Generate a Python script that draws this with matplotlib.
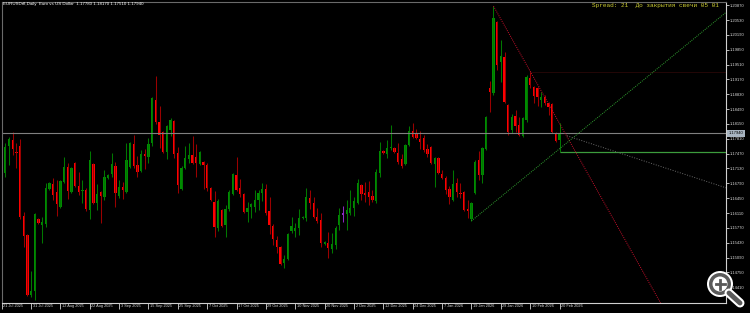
# coding:utf-8
# MT4 style daily candle chart (EURUSD, Jul 2025 - Feb 2026)
import numpy as np
import matplotlib
matplotlib.use("Agg")
from matplotlib import pyplot as plt
from matplotlib import patches, transforms

# date labels, one every 8 bars
DATE_LABELS = ["21 Jul 2025", "31 Jul 2025", "12 Aug 2025", "22 Aug 2025", "3 Sep 2025",
               "15 Sep 2025", "25 Sep 2025", "7 Oct 2025", "17 Oct 2025", "29 Oct 2025",
               "10 Nov 2025", "20 Nov 2025", "2 Dec 2025", "12 Dec 2025", "24 Dec 2025",
               "7 Jan 2026", "19 Jan 2026", "29 Jan 2026", "10 Feb 2026", "20 Feb 2026"]
LABEL_STEP = 8

OPEN = [1.1641, 1.1703, 1.1765, 1.1778, 1.1751, 1.1765, 1.1604, 1.1561, 1.1423, 1.1433,
        1.1598, 1.1584, 1.1586, 1.1666, 1.1678, 1.1659, 1.1625, 1.1682, 1.1717, 1.1659,
        1.1726, 1.1673, 1.1662, 1.1664, 1.1618, 1.1723, 1.1634, 1.1659, 1.1648, 1.1691,
        1.1701, 1.1719, 1.1650, 1.1671, 1.1659, 1.1717, 1.1769, 1.1721, 1.1707, 1.1746,
        1.1739, 1.1772, 1.1870, 1.1820, 1.1797, 1.1751, 1.1801, 1.1822, 1.1749, 1.1666,
        1.1714, 1.1735, 1.1744, 1.1739, 1.1723, 1.1728, 1.1721, 1.1668, 1.1636, 1.1577,
        1.1618, 1.1584, 1.1620, 1.1655, 1.1698, 1.1668, 1.1655, 1.1614, 1.1625, 1.1625,
        1.1641, 1.1657, 1.1666, 1.1616, 1.1581, 1.1549, 1.1533, 1.1497, 1.1506, 1.1570,
        1.1570, 1.1577, 1.1600, 1.1600, 1.1646, 1.1634, 1.1602, 1.1595, 1.1540, 1.1543,
        1.1529, 1.1538, 1.1584, 1.1607, 1.1609, 1.1611, 1.1623, 1.1634, 1.1675, 1.1657,
        1.1659, 1.1650, 1.1639, 1.1703, 1.1753, 1.1746, 1.1760, 1.1760, 1.1749, 1.1735,
        1.1723, 1.1767, 1.1799, 1.1794, 1.1781, 1.1783, 1.1758, 1.1762, 1.1723, 1.1737,
        1.1701, 1.1691, 1.1666, 1.1641, 1.1680, 1.1657, 1.1659, 1.1620, 1.1598, 1.1657,
        1.1733, 1.1698, 1.1758, 1.1898, 1.1886, 1.2049, 1.1957, 1.1968, 1.1859, 1.1801,
        1.1833, 1.1813, 1.1788, 1.1824, 1.1920, 1.1900, 1.1898, 1.1870, 1.1877, 1.1863,
        1.1861, 1.1794, 1.1778]
HIGH = [1.1721, 1.1772, 1.1785, 1.1797, 1.1772, 1.1781, 1.1614, 1.1563, 1.1478, 1.1611,
        1.1600, 1.1602, 1.1680, 1.1682, 1.1691, 1.1687, 1.1687, 1.1739, 1.1726, 1.1717,
        1.1728, 1.1705, 1.1687, 1.1668, 1.1753, 1.1726, 1.1678, 1.1662, 1.1710, 1.1701,
        1.1749, 1.1728, 1.1687, 1.1682, 1.1772, 1.1774, 1.1790, 1.1742, 1.1756, 1.1758,
        1.1783, 1.1877, 1.1925, 1.1856, 1.1799, 1.1813, 1.1829, 1.1824, 1.1762, 1.1719,
        1.1765, 1.1772, 1.1788, 1.1769, 1.1753, 1.1730, 1.1726, 1.1671, 1.1662, 1.1643,
        1.1620, 1.1630, 1.1664, 1.1703, 1.1739, 1.1689, 1.1657, 1.1636, 1.1634, 1.1664,
        1.1664, 1.1680, 1.1678, 1.1648, 1.1586, 1.1559, 1.1536, 1.1515, 1.1565, 1.1602,
        1.1588, 1.1620, 1.1604, 1.1668, 1.1664, 1.1648, 1.1623, 1.1611, 1.1547, 1.1568,
        1.1565, 1.1581, 1.1623, 1.1627, 1.1641, 1.1664, 1.1648, 1.1689, 1.1678, 1.1682,
        1.1684, 1.1664, 1.1712, 1.1774, 1.1756, 1.1778, 1.1813, 1.1762, 1.1772, 1.1746,
        1.1769, 1.1810, 1.1817, 1.1804, 1.1799, 1.1790, 1.1769, 1.1765, 1.1739, 1.1739,
        1.1710, 1.1696, 1.1673, 1.1710, 1.1691, 1.1680, 1.1662, 1.1641, 1.1636, 1.1733,
        1.1753, 1.1762, 1.1833, 1.1914, 1.2085, 1.2051, 1.2007, 1.1980, 1.1861, 1.1838,
        1.1847, 1.1831, 1.1831, 1.1927, 1.1936, 1.1902, 1.1900, 1.1888, 1.1881, 1.1865,
        1.1863, 1.1796, 1.1817]
LOW = [1.1639, 1.1694, 1.1721, 1.1744, 1.1714, 1.1598, 1.1533, 1.1421, 1.1419, 1.1412,
       1.1586, 1.1543, 1.1579, 1.1664, 1.1641, 1.1604, 1.1623, 1.1680, 1.1643, 1.1657,
       1.1671, 1.1652, 1.1634, 1.1616, 1.1598, 1.1632, 1.1618, 1.1588, 1.1641, 1.1689,
       1.1694, 1.1625, 1.1646, 1.1643, 1.1657, 1.1714, 1.1714, 1.1694, 1.1705, 1.1712,
       1.1726, 1.1765, 1.1815, 1.1760, 1.1749, 1.1735, 1.1788, 1.1737, 1.1657, 1.1664,
       1.1712, 1.1726, 1.1724, 1.1694, 1.1721, 1.1666, 1.1662, 1.1639, 1.1556, 1.1570,
       1.1579, 1.1556, 1.1616, 1.1652, 1.1662, 1.1648, 1.1611, 1.1591, 1.1600, 1.1614,
       1.1618, 1.1639, 1.1607, 1.1563, 1.1538, 1.1520, 1.1492, 1.1485, 1.1504, 1.1565,
       1.1556, 1.1561, 1.1598, 1.1593, 1.1620, 1.1600, 1.1588, 1.1533, 1.1538, 1.1508,
       1.1520, 1.1529, 1.1572, 1.1591, 1.1572, 1.1607, 1.1604, 1.1632, 1.1641, 1.1636,
       1.1630, 1.1636, 1.1634, 1.1694, 1.1747, 1.1737, 1.1756, 1.1749, 1.1723, 1.1714,
       1.1721, 1.1765, 1.1783, 1.1781, 1.1758, 1.1751, 1.1739, 1.1723, 1.1671, 1.1701,
       1.1689, 1.1655, 1.1632, 1.1639, 1.1648, 1.1646, 1.1616, 1.1600, 1.1593, 1.1655,
       1.1687, 1.1680, 1.1756, 1.1843, 1.1881, 1.1939, 1.1911, 1.1863, 1.1790, 1.1794,
       1.1797, 1.1788, 1.1785, 1.1820, 1.1898, 1.1863, 1.1856, 1.1854, 1.1859, 1.1836,
       1.1794, 1.1774, 1.1751]
CLOSE = [1.1705, 1.1762, 1.1781, 1.1758, 1.1749, 1.1602, 1.1559, 1.1423, 1.1433, 1.1609,
         1.1588, 1.1591, 1.1668, 1.1680, 1.1652, 1.1632, 1.1684, 1.1717, 1.1662, 1.1714,
         1.1673, 1.1659, 1.1664, 1.1620, 1.1733, 1.1634, 1.1655, 1.1650, 1.1694, 1.1698,
         1.1723, 1.1657, 1.1671, 1.1664, 1.1733, 1.1772, 1.1719, 1.1705, 1.1746, 1.1742,
         1.1769, 1.1875, 1.1820, 1.1790, 1.1751, 1.1810, 1.1824, 1.1746, 1.1675, 1.1714,
         1.1737, 1.1744, 1.1726, 1.1726, 1.1751, 1.1721, 1.1668, 1.1641, 1.1579, 1.1639,
         1.1581, 1.1620, 1.1659, 1.1701, 1.1664, 1.1655, 1.1614, 1.1623, 1.1632, 1.1641,
         1.1657, 1.1666, 1.1611, 1.1584, 1.1552, 1.1533, 1.1494, 1.1506, 1.1563, 1.1581,
         1.1577, 1.1600, 1.1602, 1.1648, 1.1634, 1.1602, 1.1593, 1.1543, 1.1545, 1.1531,
         1.1540, 1.1577, 1.1607, 1.1611, 1.1618, 1.1623, 1.1639, 1.1680, 1.1655, 1.1652,
         1.1648, 1.1641, 1.1705, 1.1753, 1.1749, 1.1760, 1.1762, 1.1751, 1.1728, 1.1719,
         1.1767, 1.1799, 1.1785, 1.1783, 1.1774, 1.1756, 1.1746, 1.1726, 1.1737, 1.1703,
         1.1691, 1.1664, 1.1648, 1.1678, 1.1659, 1.1655, 1.1618, 1.1616, 1.1634, 1.1728,
         1.1698, 1.1760, 1.1831, 1.1888, 1.2058, 1.1950, 1.1971, 1.1865, 1.1797, 1.1831,
         1.1810, 1.1790, 1.1829, 1.1923, 1.1904, 1.1879, 1.1877, 1.1877, 1.1863, 1.1854,
         1.1797, 1.1776, 1.1794]

# the one candle drawn in violet
MARKED_BAR = 93

# price scale labels
PRICE_TICKS = [1.20870, 1.20530, 1.20190, 1.19850, 1.19510, 1.19170, 1.18830, 1.18490,
               1.18150, 1.17810, 1.17470, 1.17130, 1.16790, 1.16450, 1.16110, 1.15770,
               1.15430, 1.15090, 1.14750, 1.14410]

# drawn objects: (bar, price) anchors
RED_LINE = [(134, 1.2085), (182, 1.1368)]
GREEN_LINE = [(128, 1.1593), (198, 1.2075)]
GREY_LINE = [(154, 1.1788), (198, 1.1667)]
GREEN_LEVEL = (152, 1.1751)
RED_LEVEL = (144, 1.1935)

TITLE = "EURUSDrfl,Daily  Euro vs US Dollar  1.17780 1.18170 1.17510 1.17940"
SPREAD_TEXT = "Spread: 21  До закрытия свечи 05 01"


def draw_candles(ax):
    x = np.arange(len(OPEN))
    o = np.array(OPEN)
    h = np.array(HIGH)
    l = np.array(LOW)
    c = np.array(CLOSE)
    up = c >= o
    body_col = np.where(up, "#008c00", "#ff0000").astype(object)
    wick_col = np.where(up, "#007800", "#9a0000").astype(object)
    body_col[MARKED_BAR] = "#8a2ac0"
    wick_col[MARKED_BAR] = "#8a2ac0"
    ax.vlines(x, l, h, colors=list(wick_col), linewidth=0.75)
    bottom = np.minimum(o, c)
    height = np.maximum(np.abs(c - o), 0.0002)
    ax.bar(x, height, bottom=bottom, width=0.62, color=list(body_col), linewidth=0)


def draw_objects(ax):
    ax.axhline(CLOSE[-1], color="#808080", linewidth=0.8)
    ax.hlines(RED_LEVEL[1], RED_LEVEL[0], 200, color="#240707", linewidth=0.7)
    ax.hlines(GREEN_LEVEL[1], GREEN_LEVEL[0], 200, color="#3c9c3c", linewidth=0.9)
    ax.plot([p[0] for p in RED_LINE], [p[1] for p in RED_LINE],
            color="#c8102c", linewidth=0.7, linestyle=(0, (1, 1.2)))
    ax.plot([p[0] for p in GREEN_LINE], [p[1] for p in GREEN_LINE],
            color="#30a030", linewidth=0.7, linestyle=(0, (1, 1.2)))
    ax.plot([p[0] for p in GREY_LINE], [p[1] for p in GREY_LINE],
            color="#6a6a6a", linewidth=0.7, linestyle=(0, (1, 1.6)))


def set_up_axes(ax):
    ax.set_facecolor("black")
    ax.set_xlim(-0.05, 197.35)
    ax.set_ylim(1.1405, 1.2095)
    for side in ["top", "left"]:
        ax.spines[side].set_color("#6a6a6a")
    for side in ["bottom", "right"]:
        ax.spines[side].set_color("#d0d0d0")
    for sp in ax.spines.values():
        sp.set_linewidth(0.8)

    ax.yaxis.tick_right()
    ax.set_yticks(PRICE_TICKS)
    ax.set_yticklabels(["%.5f" % v for v in PRICE_TICKS])
    ax.tick_params(axis="y", colors="#d8d8d8", labelsize=3.0, length=2, width=0.6, pad=0.8)

    ax.set_xticks(np.arange(len(DATE_LABELS)) * LABEL_STEP)
    ax.set_xticklabels(DATE_LABELS, family="Liberation Sans")
    ax.tick_params(axis="x", colors="#d8d8d8", labelsize=2.8, length=4, width=0.6, pad=-3.2)
    shift = transforms.ScaledTranslation(1.5 / 100, 0, ax.figure.dpi_scale_trans)
    for lab in ax.get_xticklabels():
        lab.set_ha("left")
        lab.set_transform(lab.get_transform() + shift)
    for lab in ax.get_yticklabels():
        lab.set_family("Liberation Sans")

    # current price box on the scale
    blend = transforms.blended_transform_factory(ax.transAxes, ax.transData)
    ax.text(1.004, CLOSE[-1], "%.5f" % CLOSE[-1], transform=blend, ha="left", va="center",
            fontsize=3.0, family="Liberation Sans", color="black", clip_on=False,
            bbox=dict(boxstyle="square,pad=0.35", fc="#a8b4c0", ec="none"))


def draw_zoom_icon(fig):
    ov = fig.add_axes([0, 0, 1, 1])
    ov.set_xlim(0, 750)
    ov.set_ylim(313, 0)
    ov.axis("off")
    ov.patch.set_alpha(0)
    ov.plot([729, 740], [293, 303], color="white", linewidth=6.5, solid_capstyle="round")
    ov.plot([729, 740], [293, 303], color="#5a5a5a", linewidth=3.5, solid_capstyle="round")
    ov.add_patch(patches.Circle((720, 284), 13, fc="white", ec="none"))
    ov.add_patch(patches.Circle((720, 284), 11, fc="#5a5a5a", ec="none"))
    ov.add_patch(patches.Circle((720, 284), 7.5, fc="white", ec="none"))
    ov.plot([715.5, 724.5], [284, 284], color="#5a5a5a", linewidth=2)
    ov.plot([720, 720], [279.5, 288.5], color="#5a5a5a", linewidth=2)


def main():
    fig = plt.figure(figsize=(7.5, 3.13), dpi=100, facecolor="black")
    ax = fig.add_axes([0.002, 0.032, 0.966, 0.9626])
    set_up_axes(ax)
    draw_candles(ax)
    draw_objects(ax)

    fig.text(3 / 750, 1 - 4.5 / 313, TITLE, color="white", fontsize=3.2,
             family="Liberation Sans", ha="left", va="center")
    fig.text(592 / 750, 1 - 5.5 / 313, SPREAD_TEXT, color="#cccc33", fontsize=4.4,
             family="Liberation Mono", ha="left", va="center")
    draw_zoom_icon(fig)

    fig.savefig("out.png", dpi=100, facecolor="black")


if __name__ == "__main__":
    main()
